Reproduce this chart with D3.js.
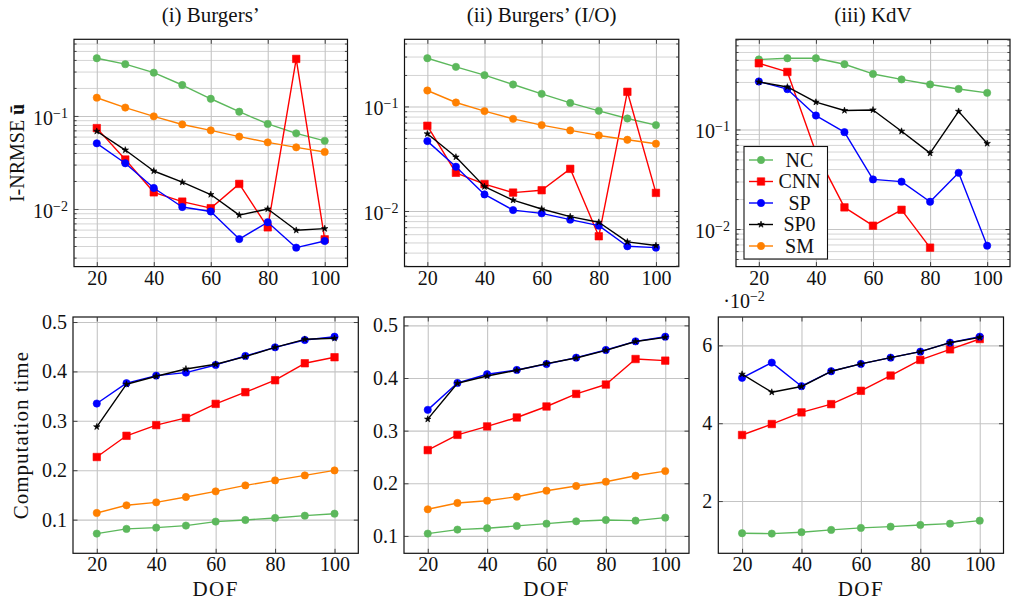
<!DOCTYPE html>
<html>
<head>
<meta charset="utf-8">
<script src="https://cdn.jsdelivr.net/npm/d3@7"></script>
<style>
  body { margin: 0; background: #ffffff; }
  svg { display: block; font-family: "Liberation Serif", "DejaVu Serif", serif; }
</style>
</head>
<body>
<svg id="fig" width="1014" height="602"></svg>
<script>
// ---- Degrees of freedom (shared x values) ----
const dof = [20, 30, 40, 50, 60, 70, 80, 90, 100];
const dofTicks = [20, 40, 60, 80, 100];

// ---- I-NRMSE, Burgers' ----
const burgersErrNC  = [0.417, 0.360, 0.292, 0.215, 0.153, 0.111, 0.082, 0.065, 0.054];
const burgersErrCNN = [0.074, 0.034, 0.0151, 0.0120, 0.0102, 0.0186, 0.00635, 0.41, 0.00472];
const burgersErrSP  = [0.0508, 0.031, 0.0168, 0.0105, 0.0094, 0.00475, 0.0072, 0.00384, 0.00453];
const burgersErrSP0 = [0.0684, 0.043, 0.0256, 0.0194, 0.0143, 0.0086, 0.0100, 0.0059, 0.00615];
const burgersErrSM  = [0.157, 0.123, 0.099, 0.081, 0.070, 0.060, 0.052, 0.046, 0.041];

// ---- I-NRMSE, Burgers' (I/O) ----
const burgersIOErrNC  = [0.289, 0.239, 0.199, 0.162, 0.132, 0.108, 0.0908, 0.0767, 0.0663];
const burgersIOErrCNN = [0.0653, 0.0232, 0.0181, 0.0150, 0.0158, 0.0253, 0.00573, 0.138, 0.0149];
const burgersIOErrSP  = [0.0466, 0.0265, 0.0144, 0.0102, 0.0095, 0.00826, 0.00724, 0.0046, 0.00446];
const burgersIOErrSP0 = [0.0547, 0.0328, 0.0171, 0.0127, 0.01045, 0.00883, 0.0078, 0.00506, 0.00467];
const burgersIOErrSM  = [0.142, 0.109, 0.0902, 0.0761, 0.0663, 0.059, 0.0528, 0.048, 0.044];

// ---- I-NRMSE, KdV (no SM run; CNN stops at 80) ----
const kdvErrNC  = [0.504, 0.519, 0.519, 0.452, 0.361, 0.318, 0.283, 0.255, 0.233];
const kdvErrCNN = [0.462, 0.378, 0.0588, 0.0165, 0.0108, 0.0156, 0.0065, null, null];
const kdvErrSP  = [0.303, 0.254, 0.138, 0.094, 0.0315, 0.0299, 0.0188, 0.0367, 0.0068];
const kdvErrSP0 = [0.300, 0.267, 0.188, 0.155, 0.157, 0.096, 0.0578, 0.152, 0.0723];
const kdvErrSM  = [null, null, null, null, null, null, null, null, null];

// ---- Computation time, Burgers' ----
const burgersTimeNC  = [0.0717, 0.0812, 0.0838, 0.0879, 0.096, 0.0993, 0.1034, 0.108, 0.112];
const burgersTimeCNN = [0.2267, 0.2697, 0.2913, 0.306, 0.3343, 0.358, 0.3822, 0.4165, 0.4287];
const burgersTimeSP  = [0.335, 0.3762, 0.3915, 0.3976, 0.4131, 0.4313, 0.4488, 0.4636, 0.4703];
const burgersTimeSP0 = [0.2879, 0.3741, 0.3903, 0.405, 0.4145, 0.43, 0.4488, 0.465, 0.467];
const burgersTimeSM  = [0.1135, 0.129, 0.135, 0.1458, 0.1572, 0.1693, 0.1794, 0.1895, 0.1996];

// ---- Computation time, Burgers' (I/O) ----
const burgersIOTimeNC  = [0.1044, 0.112, 0.1146, 0.119, 0.1233, 0.1278, 0.1303, 0.129, 0.1347];
const burgersIOTimeCNN = [0.263, 0.292, 0.308, 0.325, 0.3459, 0.3698, 0.3876, 0.4361, 0.433];
const burgersIOTimeSP  = [0.3395, 0.3906, 0.4071, 0.4153, 0.4266, 0.4387, 0.4532, 0.4697, 0.4785];
const burgersIOTimeSP0 = [0.3218, 0.39, 0.4039, 0.4147, 0.4274, 0.438, 0.4526, 0.4694, 0.4773];
const burgersIOTimeSM  = [0.1506, 0.1626, 0.1669, 0.1745, 0.1859, 0.1948, 0.203, 0.2143, 0.2232];

// ---- Computation time, KdV ----
const kdvTimeNC  = [0.01174, 0.01164, 0.0120, 0.01259, 0.0131, 0.01343, 0.01386, 0.0142, 0.01497];
const kdvTimeCNN = [0.03697, 0.03979, 0.04278, 0.0449, 0.04833, 0.05225, 0.05626, 0.05898, 0.06163];
const kdvTimeSP  = [0.05165, 0.05557, 0.04951, 0.05335, 0.05523, 0.05685, 0.05839, 0.06069, 0.06223];
const kdvTimeSP0 = [0.05259, 0.04797, 0.04943, 0.05335, 0.05523, 0.05685, 0.05839, 0.06069, 0.06206];
const kdvTimeSM  = [null, null, null, null, null, null, null, null, null];

// ---- Tick values ----
const errTicks = [0.01, 0.1];
const timeTicks = [0.1, 0.2, 0.3, 0.4, 0.5];
const kdvTimeTicks = [0.02, 0.04, 0.06];

// ---- Method names and styling ----
const methods = ["NC", "CNN", "SP", "SP0", "SM"];
const methodColor = { NC: "#5cb85c", CNN: "#ff0000", SP: "#0000ff", SP0: "#000000", SM: "#ff8000" };
const methodMark = { NC: "circle", CNN: "square", SP: "circle", SP0: "star", SM: "circle" };

const svg = d3.select("#fig");
const FONT = 20;
const LABEL_FONT = 21;
const TEXT = "#111";
const symbolFor = {
  circle: d3.symbol().type(d3.symbolCircle).size(42),
  square: d3.symbol().type(d3.symbolSquare).size(56),
  star:   d3.symbol().type(d3.symbolStar).size(13)
};

function seriesOf(arrs) {
  return methods.map((m, i) => ({ name: m, values: arrs[i] }));
}

function minorLogTicks(domain) {
  const out = [];
  const lo = Math.floor(Math.log10(domain[0])), hi = Math.ceil(Math.log10(domain[1]));
  for (let e = lo; e <= hi; e++) {
    for (let k = 2; k <= 9; k++) {
      const v = k * Math.pow(10, e);
      if (v >= domain[0] && v <= domain[1]) out.push(v);
    }
  }
  return out;
}

function styleAxisText(g) {
  g.attr("font-family", null).attr("font-size", FONT);
  g.selectAll("text").attr("fill", TEXT);
  g.select(".domain").remove();
}

function drawPanel(p) {
  const g = svg.append("g");
  const w = p.right - p.left;
  const h = p.bottom - p.top;

  const x = d3.scaleLinear()
    .domain([d3.min(dof) - 0.1 * (d3.max(dof) - d3.min(dof)), d3.max(dof) + 0.1 * (d3.max(dof) - d3.min(dof))])
    .range([p.left, p.right]);

  const vals = p.series.flatMap(s => s.values).filter(v => v != null);
  let y;
  if (p.log) {
    const lo = Math.log10(d3.min(vals)), hi = Math.log10(d3.max(vals));
    const pad = 0.1 * (hi - lo);
    y = d3.scaleLog().domain([Math.pow(10, lo - pad), Math.pow(10, hi + pad)]).range([p.bottom, p.top]);
  } else {
    const lo = d3.min(vals), hi = d3.max(vals);
    const pad = 0.1 * (hi - lo);
    y = d3.scaleLinear().domain([lo - pad, hi + pad]).range([p.bottom, p.top]);
  }
  const minor = p.log ? minorLogTicks(y.domain()) : [];

  // grid
  if (p.log) {
    g.append("g").attr("transform", `translate(${p.left},0)`)
      .call(d3.axisLeft(y).tickValues(minor).tickSize(-w).tickFormat(""))
      .call(a => { a.select(".domain").remove(); a.selectAll("line").attr("stroke", "#d4d4d4").attr("stroke-width", 1); });
  }
  g.append("g").attr("transform", `translate(${p.left},0)`)
    .call(d3.axisLeft(y).tickValues(p.yTicks).tickSize(-w).tickFormat(""))
    .call(a => { a.select(".domain").remove(); a.selectAll("line").attr("stroke", "#c4c4c4").attr("stroke-width", 1.1); });
  g.append("g").attr("transform", `translate(0,${p.bottom})`)
    .call(d3.axisBottom(x).tickValues(dofTicks).tickSize(-h).tickFormat(""))
    .call(a => { a.select(".domain").remove(); a.selectAll("line").attr("stroke", "#c4c4c4").attr("stroke-width", 1.1); });

  // frame
  g.append("rect").attr("x", p.left).attr("y", p.top).attr("width", w).attr("height", h)
    .attr("fill", "none").attr("stroke", "#111").attr("stroke-width", 1.2);

  // inward tick marks on all four sides
  const tickCol = "#333";
  const inner = (a) => { a.select(".domain").remove(); a.selectAll("line").attr("stroke", tickCol).attr("stroke-width", 0.9); };
  if (p.log) {
    g.append("g").attr("transform", `translate(${p.left},0)`)
      .call(d3.axisLeft(y).tickValues(minor).tickSize(-2.6).tickFormat("")).call(inner);
    g.append("g").attr("transform", `translate(${p.right},0)`)
      .call(d3.axisRight(y).tickValues(minor).tickSize(-2.6).tickFormat("")).call(inner);
  }
  g.append("g").attr("transform", `translate(${p.right},0)`)
    .call(d3.axisRight(y).tickValues(p.yTicks).tickSize(-4.5).tickFormat("")).call(inner);
  g.append("g").attr("transform", `translate(0,${p.top})`)
    .call(d3.axisTop(x).tickValues(dofTicks).tickSize(-4.5).tickFormat("")).call(inner);

  const yAxis = g.append("g").attr("transform", `translate(${p.left},0)`)
    .call(d3.axisLeft(y).tickValues(p.yTicks).tickSize(-4.5).tickPadding(6)
      .tickFormat(p.log ? (d => "") : p.yFormat));
  yAxis.selectAll("line").attr("stroke", tickCol).attr("stroke-width", 0.9);
  styleAxisText(yAxis);
  if (p.log) {
    yAxis.selectAll(".tick text").each(function (d) {
      const t = d3.select(this).attr("dy", "0.42em");
      t.append("tspan").text("10");
      t.append("tspan").attr("dy", "-0.5em").attr("font-size", "0.7em")
        .text("\u2212" + Math.abs(Math.round(Math.log10(d))));
    });
  }

  const xAxis = g.append("g").attr("transform", `translate(0,${p.bottom})`)
    .call(d3.axisBottom(x).tickValues(dofTicks).tickSize(-4.5).tickPadding(4));
  xAxis.selectAll("line").attr("stroke", tickCol).attr("stroke-width", 0.9);
  styleAxisText(xAxis);

  // data
  p.series.forEach(s => {
    const pts = dof.map((d, i) => ({ x: d, y: s.values[i] })).filter(d => d.y != null);
    if (!pts.length) return;
    const col = methodColor[s.name];
    g.append("path").datum(pts)
      .attr("fill", "none").attr("stroke", col).attr("stroke-width", 1.4)
      .attr("stroke-linejoin", "round")
      .attr("d", d3.line().x(d => x(d.x)).y(d => y(d.y)));
    g.selectAll(null).data(pts).enter().append("path")
      .attr("transform", d => `translate(${x(d.x)},${y(d.y)})`)
      .attr("d", symbolFor[methodMark[s.name]]())
      .attr("fill", col).attr("stroke", col).attr("stroke-width", 0.6);
  });

  // titles and axis labels
  if (p.title) {
    svg.append("text").attr("x", (p.left + p.right) / 2).attr("y", 21.5)
      .attr("text-anchor", "middle").attr("font-size", LABEL_FONT).attr("fill", TEXT).text(p.title);
  }
  if (p.xLabel) {
    svg.append("text").attr("x", (p.left + p.right) / 2).attr("y", 596)
      .attr("text-anchor", "middle").attr("font-size", LABEL_FONT).attr("letter-spacing", 1.5)
      .attr("fill", TEXT).text(p.xLabel);
  }
  if (p.yLabel) {
    const t = svg.append("text")
      .attr("transform", `translate(${p.yLabelX},${(p.top + p.bottom) / 2}) rotate(-90)`)
      .attr("text-anchor", "middle").attr("font-size", p.yLabelSize || FONT)
      .attr("letter-spacing", p.yLabelSpacing || 0).attr("fill", TEXT);
    t.append("tspan").text(p.yLabel);
    if (p.yLabelBold) t.append("tspan").attr("font-weight", "bold").text(p.yLabelBold);
  }
  if (p.scaleNote) {
    const t = svg.append("text").attr("x", p.left + 5).attr("y", 308)
      .attr("font-size", FONT).attr("fill", TEXT);
    t.append("tspan").text("\u00B710");
    t.append("tspan").attr("dy", "-0.5em").attr("font-size", "0.7em").text("\u22122");
  }
  if (p.legend) drawLegend();
}

function drawLegend() {
  const lg = svg.append("g");
  lg.append("rect").attr("x", 744).attr("y", 146.5).attr("width", 83.5).attr("height", 112.5)
    .attr("fill", "#fff").attr("stroke", "#111").attr("stroke-width", 1.1);
  methods.forEach((m, i) => {
    const cy = 160 + i * 21.5;
    const col = methodColor[m];
    lg.append("line").attr("x1", 749).attr("x2", 773).attr("y1", cy).attr("y2", cy)
      .attr("stroke", col).attr("stroke-width", 1.4);
    lg.append("path").attr("transform", `translate(761,${cy})`)
      .attr("d", symbolFor[methodMark[m]]()).attr("fill", col).attr("stroke", col).attr("stroke-width", 0.6);
    lg.append("text").attr("x", 799.5).attr("y", cy + 6.8).attr("text-anchor", "middle")
      .attr("font-size", FONT).attr("fill", TEXT).text(m);
  });
}

const topY = { top: 39.3, bottom: 266.6 };
const botY = { top: 317, bottom: 553.3 };

drawPanel({ ...topY, left: 74, right: 347.5, log: true, yTicks: errTicks, title: "(i) Burgers\u2019",
  yLabel: "I-NRMSE ", yLabelBold: "\u016B", yLabelX: 24,
  series: seriesOf([burgersErrNC, burgersErrCNN, burgersErrSP, burgersErrSP0, burgersErrSM]) });
drawPanel({ ...topY, left: 404.5, right: 678.8, log: true, yTicks: errTicks, title: "(ii) Burgers\u2019 (I/O)",
  series: seriesOf([burgersIOErrNC, burgersIOErrCNN, burgersIOErrSP, burgersIOErrSP0, burgersIOErrSM]) });
drawPanel({ ...topY, left: 736, right: 1010, log: true, yTicks: errTicks, title: "(iii) KdV",
  series: seriesOf([kdvErrNC, kdvErrCNN, kdvErrSP, kdvErrSP0, kdvErrSM]), legend: true });

drawPanel({ ...botY, left: 73, right: 358.3, log: false, yTicks: timeTicks, yFormat: d3.format(".1f"),
  xLabel: "DOF", yLabel: "Computation time", yLabelX: 28, yLabelSize: LABEL_FONT, yLabelSpacing: 1,
  series: seriesOf([burgersTimeNC, burgersTimeCNN, burgersTimeSP, burgersTimeSP0, burgersTimeSM]) });
drawPanel({ ...botY, left: 404, right: 689, log: false, yTicks: timeTicks, yFormat: d3.format(".1f"),
  xLabel: "DOF",
  series: seriesOf([burgersIOTimeNC, burgersIOTimeCNN, burgersIOTimeSP, burgersIOTimeSP0, burgersIOTimeSM]) });
drawPanel({ ...botY, left: 718.3, right: 1003.5, log: false, yTicks: kdvTimeTicks, yFormat: d => Math.round(d * 100),
  xLabel: "DOF", scaleNote: true,
  series: seriesOf([kdvTimeNC, kdvTimeCNN, kdvTimeSP, kdvTimeSP0, kdvTimeSM]) });
</script>
</body>
</html>
